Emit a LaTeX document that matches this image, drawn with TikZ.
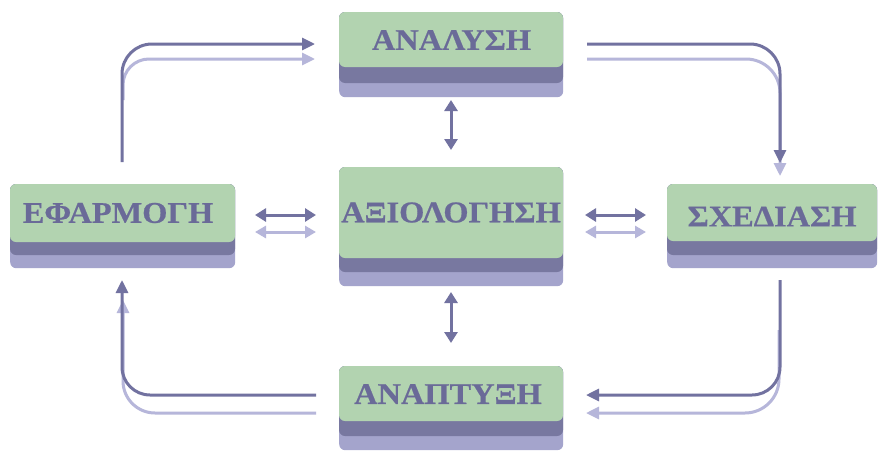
\documentclass[tikz,border=0pt]{standalone}
\usepackage{fontspec}
\setmainfont{Liberation Serif}[FakeStretch=1.08, BoldFeatures={FakeBold=0.6}]
\usetikzlibrary{arrows.meta}
\definecolor{boxgreen}{HTML}{B2D3B0}
\definecolor{banddark}{HTML}{7878A0}
\definecolor{bandlight}{HTML}{A4A4CC}
\definecolor{txtcol}{HTML}{6A6A98}
\definecolor{arrdark}{HTML}{7272A0}
\definecolor{arrlight}{HTML}{B6B6DA}
\tikzset{
  lightlayer/.style={fill=bandlight, rounded corners=6pt, draw=none, inner sep=0pt, anchor=north west},
  darklayer/.style={fill=banddark, rounded corners=6pt},
  greenlayer/.style={fill=boxgreen, rounded corners=6pt},
  boxtext/.style={text=txtcol, font=\bfseries\fontsize{30}{32}\selectfont, inner sep=0pt},
  darkarrow/.style={draw=arrdark, line width=3pt, -{Triangle[length=13pt,width=12pt]}},
  lightarrow/.style={draw=arrlight, line width=3pt, -{Triangle[length=13pt,width=12pt]}},
  darkboth/.style={draw=arrdark, line width=3pt, {Triangle[length=11pt,width=13pt]}-{Triangle[length=11pt,width=13pt]}},
  lightboth/.style={draw=arrlight, line width=3pt, {Triangle[length=11pt,width=12pt]}-{Triangle[length=11pt,width=12pt]}}
}
\begin{document}
\begin{tikzpicture}[x=1pt,y=-1pt]
\useasboundingbox[fill=white] (0,0) rectangle (880,450);

% ---- boxes ----
% ANALYSH (top)
\node[lightlayer, minimum width=224pt, minimum height=85pt] (ana) at (339,12) {};
\fill[darklayer] (339,12) rectangle (563,83);
\fill[greenlayer] (339,12) rectangle (563,67);
\node[boxtext] (anaT) at (451.5,40) {ΑΝΑΛΥΣΗ};

% AXIOLOGHSH (centre)
\node[lightlayer, minimum width=224pt, minimum height=119pt] (axi) at (339,167) {};
\fill[darklayer] (339,167) rectangle (563,272);
\fill[greenlayer] (339,167) rectangle (563,258);
\node[boxtext] (axiT) at (451,212.5) {ΑΞΙΟΛΟΓΗΣΗ};

% EFARMOGH (left)
\node[lightlayer, minimum width=225pt, minimum height=84pt] (efa) at (10,184) {};
\fill[darklayer] (10,184) rectangle (235,255);
\fill[greenlayer] (10,184) rectangle (235,242);
\node[boxtext] (efaT) at (118,213) {ΕΦΑΡΜΟΓΗ};

% SXEDIASH (right)
\node[lightlayer, minimum width=210pt, minimum height=84pt] (sxe) at (667,184) {};
\fill[darklayer] (667,184) rectangle (877,255);
\fill[greenlayer] (667,184) rectangle (877,241);
\node[boxtext] (sxeT) at (772,216.5) {ΣΧΕΔΙΑΣΗ};

% ANAPTYXH (bottom)
\node[lightlayer, minimum width=224pt, minimum height=84pt] (anp) at (339,366) {};
\fill[darklayer] (339,366) rectangle (563,436);
\fill[greenlayer] (339,366) rectangle (563,421);
\node[boxtext] (anpT) at (448,394) {ΑΝΑΠΤΥΞΗ};

% ---- connector end points ----
\coordinate (tlD0) at (122,162); \coordinate (tlD1) at (315,44);
\coordinate (tlL0) at (123,100); \coordinate (tlL1) at (315,59);
\coordinate (trD0) at (587,44);  \coordinate (trD1) at (780,163);
\coordinate (trL0) at (587,59);  \coordinate (trL1) at (780,176);
\coordinate (brD0) at (780,280); \coordinate (brD1) at (586,395);
\coordinate (brL0) at (779,330); \coordinate (brL1) at (586,413);
\coordinate (blD0) at (316,395); \coordinate (blD1) at (122,280);
\coordinate (blL0) at (316,413); \coordinate (blL1) at (123,300);

% ---- corner arrows (light first, dark on top) ----
\draw[lightarrow, rounded corners=26pt] (tlL0) |- (tlL1);
\draw[darkarrow, rounded corners=30pt] (tlD0) |- (tlD1);

\draw[lightarrow, rounded corners=34pt] (trL0) -| (trL1);
\draw[darkarrow, rounded corners=30pt] (trD0) -| (trD1);

\draw[lightarrow, rounded corners=34pt] (brL0) |- (brL1);
\draw[darkarrow, rounded corners=28pt] (brD0) |- (brD1);

\draw[lightarrow, rounded corners=32pt] (blL0) -| (blL1);
\draw[darkarrow, rounded corners=28pt] (blD0) -| (blD1);

% ---- double arrows ----
\coordinate (lh1) at (255,215); \coordinate (lh2) at (316,215);
\coordinate (lh3) at (255,232); \coordinate (lh4) at (316,232);
\draw[darkboth] (lh1) -- (lh2);
\draw[lightboth] (lh3) -- (lh4);

\coordinate (rh1) at (585,215); \coordinate (rh2) at (646,215);
\coordinate (rh3) at (585,232); \coordinate (rh4) at (646,232);
\draw[darkboth] (rh1) -- (rh2);
\draw[lightboth] (rh3) -- (rh4);

\coordinate (tv1) at (451,100); \coordinate (tv2) at (451,150);
\draw[darkboth] (tv1) -- (tv2);
\coordinate (bv1) at (451,292); \coordinate (bv2) at (451,343);
\draw[darkboth] (bv1) -- (bv2);
\end{tikzpicture}
\end{document}
